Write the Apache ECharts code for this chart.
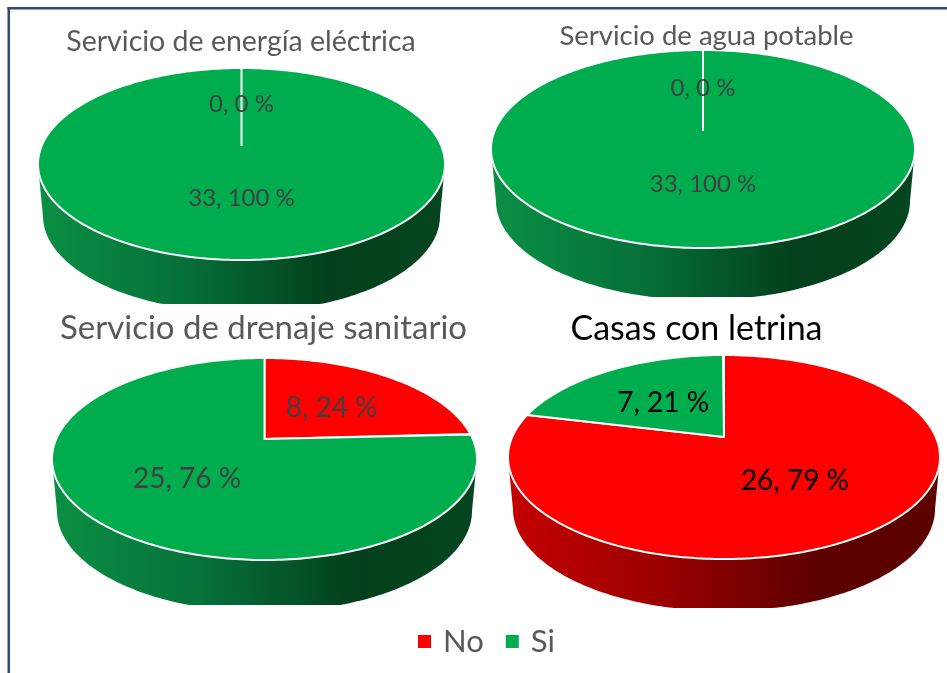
<!DOCTYPE html>
<html>
<head>
<meta charset="utf-8">
<style>
  html, body { margin: 0; padding: 0; background: #fff; }
  #main { width: 947px; height: 673px; }
</style>
<script src="https://cdn.jsdelivr.net/npm/echarts@6/dist/echarts.min.js"></script>
</head>
<body>
<div id="main"></div>
<script>
// datos
const titles = ["Servicio de energía eléctrica", "Servicio de agua potable", "Servicio de drenaje sanitario", "Casas con letrina"];
const seriesNames = ["No", "Si"];
const noValues = [0, 0, 8, 26];
const siValues = [33, 33, 25, 7];

// layout of each pie: cx, apex y, half width, dist apex->far edge, dist apex->near edge, wall depth, clip y
const pieLayout = [
  { cx: 241.5, apex: 146, rx: 203.5, far: 78, near: 114, depth: 52, clip: 304, inset: 5 },
  { cx: 703, apex: 131, rx: 212, far: 81, near: 117, depth: 52, clip: 297, inset: 5 },
  { cx: 264.5, apex: 439, rx: 212.5, far: 81, near: 121, depth: 52, clip: 605, inset: 5 },
  { cx: 724, apex: 437, rx: 216, far: 82, near: 122, depth: 52, clip: 608, inset: 5 }
];
const titleLayout = [
  { x: 236, y: 22, size: 28.5, color: "#595959" },
  { x: 701.5, y: 17, size: 27.5, color: "#595959" },
  { x: 258.5, y: 307, size: 33, color: "#595959" },
  { x: 691.5, y: 307, size: 34, color: "#000000" }
];
const labelStyle = [
  { size: 24, color: "#404040", dy: 1 },
  { size: 24, color: "#404040", dy: 1 },
  { size: 28, color: "#404040", dy: 2 },
  { size: 28, color: "#000000", dy: 2 }
];
const topColors = { No: "#ff0000", Si: "#00ad4e" };
const wallStops = {
  No: [[0, "#c40000"], [0.35, "#9c0000"], [0.72, "#5c0000"], [1, "#5c0000"]],
  Si: [[0, "#0a8f43"], [0.35, "#06713a"], [0.72, "#033f1c"], [1, "#04461f"]]
};

function project(p, t, f) {
  // disc -> tilted ellipse, perspective keeps the pie apex above the ellipse centre
  const persp = (p.near - p.far) / (p.near + p.far);
  const b = p.far * (1 + persp);
  const a = p.rx * Math.sqrt(1 - persp * persp);
  const u = Math.sin(t) * f, v = Math.cos(t) * f;
  const w = 1 + persp * v;
  return [a * u / w, b * v / w];
}

function makeRender(name) {
  return function (params, api) {
    const pieIdx = api.value(0);
    const value = api.value(1);
    const start = api.value(2);
    const total = api.value(3);
    const p = pieLayout[pieIdx];
    const persp = (p.near - p.far) / (p.near + p.far);
    const t0 = start / total * Math.PI * 2;
    const t1 = (start + value) / total * Math.PI * 2;
    const step = Math.PI / 180;
    const children = [];

    // wall, only the part of the sector facing the viewer
    const vis0 = Math.acos(-persp), vis1 = Math.PI * 2 - vis0;
    const w0 = Math.max(t0, vis0), w1 = Math.min(t1, vis1);
    if (w1 > w0) {
      const upper = [], lower = [];
      for (let t = w0; t < w1 + step / 2; t += step) {
        const q = project(p, Math.min(t, w1), 1);
        upper.push([p.cx + q[0], p.apex - q[1]]);
        lower.push([p.cx + q[0] * (1 - p.inset / p.rx), Math.min(p.apex - q[1] + p.depth, p.clip)]);
      }
      children.push({
        type: "polygon",
        z2: 10,
        shape: { points: upper.concat(lower.reverse()) },
        style: {
          fill: new echarts.graphic.LinearGradient(p.cx - p.rx, 0, p.cx + p.rx, 0,
            wallStops[name].map(function (s) { return { offset: s[0], color: s[1] }; }), true)
        }
      });
    }

    // top face
    const pts = [[p.cx, p.apex]];
    for (let t = t0; t < t1 + step / 2; t += step) {
      const q = project(p, Math.min(t, t1), 1);
      pts.push([p.cx + q[0], p.apex - q[1]]);
    }
    if (value > 0) {
      children.push({
        type: "polygon",
        z2: 20,
        shape: { points: pts },
        style: { fill: topColors[name], stroke: "#ffffff", lineWidth: 2 }
      });
    }

    // etiqueta
    const mid = project(p, (t0 + t1) / 2, 0.5);
    children.push({
      type: "text",
      z2: 30,
      x: p.cx + mid[0],
      y: p.apex - mid[1] + labelStyle[pieIdx].dy,
      style: {
        text: value + ", " + Math.round(value / total * 100) + " %",
        fill: labelStyle[pieIdx].color,
        font: labelStyle[pieIdx].size + "px Lato",
        align: "center",
        verticalAlign: "middle"
      }
    });
    return { type: "group", children: children };
  };
}

const noData = [], siData = [];
for (let i = 0; i < titles.length; i++) {
  const total = noValues[i] + siValues[i];
  noData.push([i, noValues[i], 0, total]);
  siData.push([i, siValues[i], noValues[i], total]);
}

const chart = echarts.init(document.getElementById("main"));
chart.setOption({
  animation: false,
  color: [topColors.No, topColors.Si],
  title: titles.map(function (t, i) {
    return {
      text: t,
      left: titleLayout[i].x,
      top: titleLayout[i].y,
      textAlign: "center",
      textStyle: { fontFamily: "Lato", fontWeight: "normal", fontSize: titleLayout[i].size, color: titleLayout[i].color }
    };
  }),
  legend: {
    data: seriesNames,
    left: 413,
    top: 621,
    icon: "rect",
    itemWidth: 13,
    itemHeight: 13,
    itemGap: 22,
    textStyle: { fontFamily: "Lato", fontSize: 31, color: "#595959", padding: [0, 0, 0, 7] }
  },
  graphic: [
    { type: "rect", shape: { x: 7.5, y: 7, width: 2.5, height: 666 }, style: { fill: "#2f4a78" } },
    { type: "rect", shape: { x: 7.5, y: 7, width: 940, height: 2.5 }, style: { fill: "#2f4a78" } }
  ],
  series: [
    { name: "No", type: "custom", coordinateSystem: "none", itemStyle: { color: topColors.No }, renderItem: makeRender("No"), data: noData },
    { name: "Si", type: "custom", coordinateSystem: "none", itemStyle: { color: topColors.Si }, renderItem: makeRender("Si"), data: siData }
  ]
});
</script>
</body>
</html>
